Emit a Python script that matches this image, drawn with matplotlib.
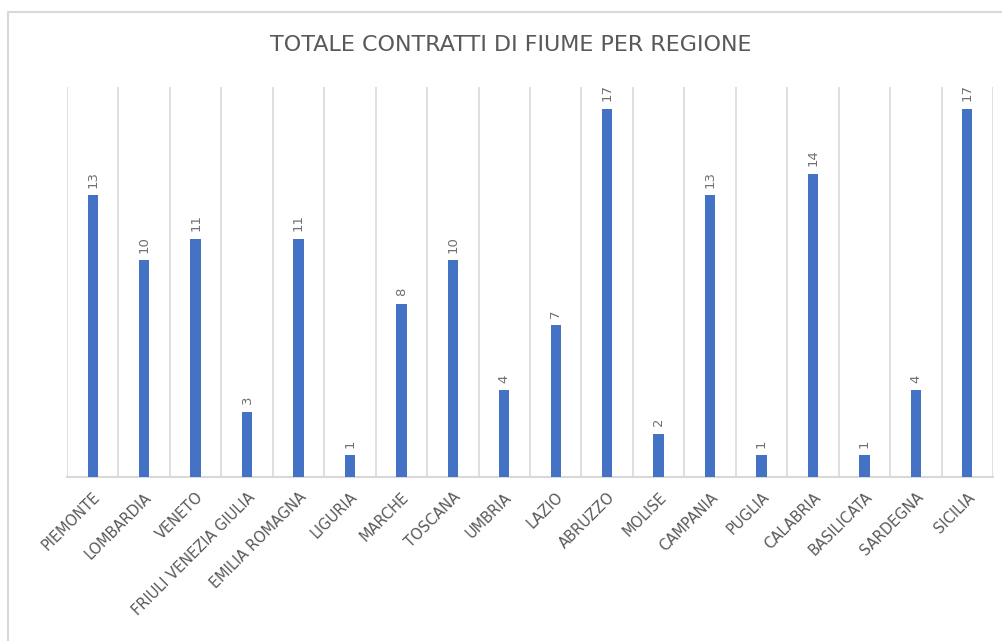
import matplotlib.pyplot as plt
from matplotlib.lines import Line2D
import numpy as np

# dati
regioni = ['PIEMONTE', 'LOMBARDIA', 'VENETO', 'FRIULI VENEZIA GIULIA', 'EMILIA ROMAGNA',
           'LIGURIA', 'MARCHE', 'TOSCANA', 'UMBRIA', 'LAZIO', 'ABRUZZO', 'MOLISE',
           'CAMPANIA', 'PUGLIA', 'CALABRIA', 'BASILICATA', 'SARDEGNA', 'SICILIA']
contratti = [13, 10, 11, 3, 11, 1, 8, 10, 4, 7, 17, 2, 13, 1, 14, 1, 4, 17]
titolo = 'TOTALE CONTRATTI DI FIUME PER REGIONE'

blu = '#4472C4'
grigio_testo = '#595959'
grigio_griglia = '#D9D9D9'

plt.rcParams['font.family'] = ['DejaVu Sans']

W, H = 1003, 641
fig = plt.figure(figsize=(W / 100, H / 100), dpi=100)

# bordo del grafico (solo sinistra e sopra sono visibili)
fig.lines.append(Line2D([8 / W, 8 / W, 1], [0, 1 - 12 / H, 1 - 12 / H],
                        transform=fig.transFigure, color=grigio_griglia, linewidth=1.5))

ax = fig.add_axes([67 / W, (H - 477) / H, (993 - 67) / W, (477 - 87) / H])

x = np.arange(len(regioni))
ax.bar(x, contratti, width=0.2, color=blu, zorder=3)

# griglia verticale tra le categorie
for b in np.arange(len(regioni) + 1) - 0.5:
    ax.axvline(b, color=grigio_griglia, linewidth=1.2, zorder=1)

ax.set_xlim(-0.5, len(regioni) - 0.5)
ax.set_ylim(0, 18)

for s in ['top', 'right', 'left']:
    ax.spines[s].set_visible(False)
ax.spines['bottom'].set_color(grigio_griglia)
ax.spines['bottom'].set_linewidth(1.5)
ax.set_yticks([])

ax.set_xticks(x)
ax.set_xticklabels(regioni, rotation=45, ha='right', rotation_mode='anchor',
                   fontsize=10.5, color=grigio_testo)
ax.tick_params(axis='x', length=0, pad=9)

# etichette dei valori
for xi, v in zip(x, contratti):
    ax.text(xi, v + 0.35, str(v), rotation=90, ha='center', va='bottom',
            fontsize=9.5, color='#707070')

fig.text(511 / W, 1 - 45 / H, titolo, ha='center', va='center',
         fontsize=16, color=grigio_testo)

fig.savefig('out.png', dpi=100)
